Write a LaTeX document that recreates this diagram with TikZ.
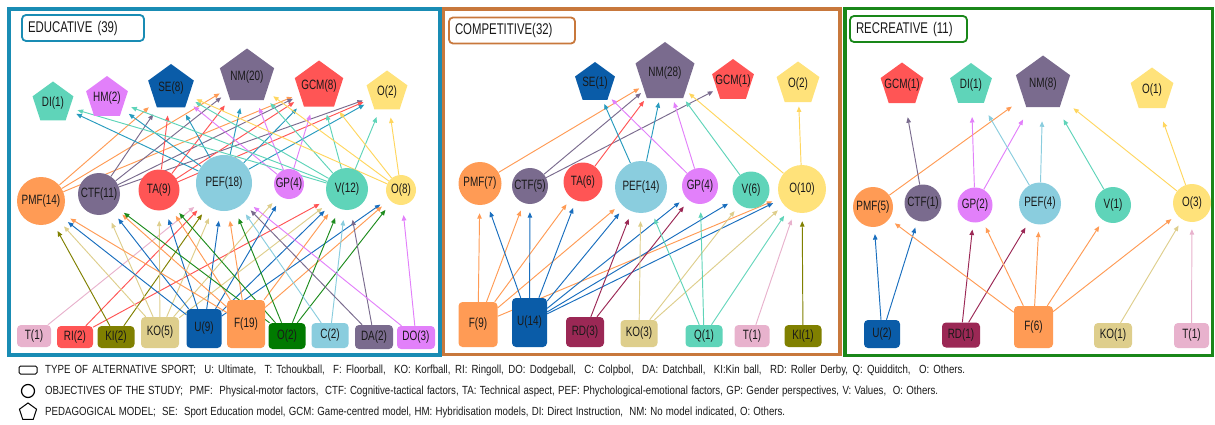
\documentclass[tikz,border=0pt]{standalone}
\usepackage{fontspec}
\setmainfont{Liberation Sans}[FakeStretch=0.735]
\newfontfamily\legfont{Liberation Sans}[FakeStretch=0.82]
\usetikzlibrary{shapes.geometric,arrows.meta}
\pgfdeclarelayer{bg}
\pgfsetlayers{bg,main}
\newcommand\mz[1]{\makebox[0pt]{#1}}
\definecolor{cedu}{RGB}{25,140,180}
\definecolor{ccomp}{RGB}{200,120,60}
\definecolor{crec}{RGB}{25,135,25}
\definecolor{cmint}{RGB}{95,212,185}
\definecolor{cviolet}{RGB}{226,128,250}
\definecolor{cblue}{RGB}{10,92,168}
\definecolor{cblueedge}{RGB}{25,110,190}
\definecolor{cplum}{RGB}{122,107,142}
\definecolor{cred}{RGB}{255,85,85}
\definecolor{cyel}{RGB}{255,226,122}
\definecolor{cyeledge}{RGB}{255,214,95}
\definecolor{corange}{RGB}{255,155,85}
\definecolor{clblue}{RGB}{138,205,222}
\definecolor{cpef}{RGB}{40,155,190}
\definecolor{cpink}{RGB}{232,178,205}
\definecolor{colive}{RGB}{128,128,0}
\definecolor{ctan}{RGB}{222,206,140}
\definecolor{cdgreen}{RGB}{0,122,0}
\definecolor{cgreenedge}{RGB}{30,140,30}
\definecolor{cmaroon}{RGB}{155,40,85}
\definecolor{ctext}{RGB}{25,25,25}
\begin{document}
\begin{tikzpicture}[x=1pt,y=-1pt,font=\fontsize{13.5}{15}\selectfont,text=ctext,
  pent/.style={regular polygon,regular polygon sides=5,inner sep=0pt,fill=#1,draw=none},
  circ/.style={circle,inner sep=0pt,fill=#1,draw=none},
  box/.style={rounded corners=4pt,inner sep=0pt,fill=#1,draw=none},
  ed/.style={draw=#1,line width=0.95pt,-{Triangle[length=5.5pt,width=4.5pt]}},
  et/.style={shorten >=8pt},
  eb/.style={shorten >=10pt},
  ct/.style={shorten >=4pt},
  cb/.style={shorten >=8pt},
  rt/.style={shorten >=14pt},
  rb/.style={shorten >=7pt},
  titlebox/.style={draw=#1,line width=1.8pt,rounded corners=4pt,minimum height=26pt,inner xsep=6pt,align=left,font=\fontsize{15.5}{17}\selectfont},
  frame/.style={draw=#1,line width=3.5pt},
  legtext/.style={anchor=west,inner sep=0pt,font=\legfont\fontsize{11.8}{13}\selectfont}
]
\useasboundingbox (0,0) rectangle (1215,425);
% frames
\draw[frame=cedu] (9,9) rectangle (440,355);
\draw[frame=ccomp] (443.5,9) rectangle (840,354.5);
\draw[frame=crec] (845,8.5) rectangle (1212.5,355.5);
\node[titlebox=cedu,text width=110pt] (eTitle) at (83,28) {EDUCATIVE (39)};
\node[titlebox=ccomp,text width=114pt] (cTitle) at (512,30.5) {COMPETITIVE(32)};
\node[titlebox=crec,text width=105pt] (rTitle) at (908.5,29) {RECREATIVE (11)};

% ===== EDUCATIVE =====
\node[pent=cmint,minimum size=43pt] (eDI) at (53,103) {\mz{DI(1)}};
\node[pent=cviolet,minimum size=44pt] (eHM) at (107,98) {\mz{HM(2)}};
\node[pent=cblue,minimum size=48pt] (eSE) at (171,88) {\mz{SE(8)}};
\node[pent=cplum,minimum size=57pt] (eNM) at (247,77) {\mz{NM(20)}};
\node[pent=cred,minimum size=51pt] (eGCM) at (319,86) {\mz{GCM(8)}};
\node[pent=cyel,minimum size=43pt] (eOp) at (387,92) {\mz{O(2)}};

\node[circ=corange,minimum size=48pt] (ePMF) at (41,201) {\mz{PMF(14)}};
\node[circ=cplum,minimum size=42pt] (eCTF) at (99,194) {\mz{CTF(11)}};
\node[circ=cred,minimum size=41pt] (eTA) at (159,190) {\mz{TA(9)}};
\node[circ=clblue,minimum size=56pt] (ePEF) at (224,183) {\mz{PEF(18)}};
\node[circ=cviolet,minimum size=30pt] (eGP) at (289,184) {\mz{GP(4)}};
\node[circ=cmint,minimum size=42pt] (eV) at (347,189) {\mz{V(12)}};
\node[circ=cyel,minimum size=30pt] (eOc) at (401,190) {\mz{O(8)}};

\node[box=cpink,minimum width=34pt,minimum height=22pt] (eT) at (34,336) {T(1)};
\node[box=cred,minimum width=36pt,minimum height=22pt] (eRI) at (75,337) {RI(2)};
\node[box=colive,minimum width=37pt,minimum height=22pt] (eKI) at (116,337) {KI(2)};
\node[box=ctan,minimum width=38pt,minimum height=31pt] (eKO) at (160,332.5) {KO(5)};
\node[box=cblue,minimum width=35pt,minimum height=39pt] (eU) at (204,328.5) {U(9)};
\node[box=corange,minimum width=38pt,minimum height=48pt] (eF) at (246,324) {F(19)};
\node[box=cdgreen,minimum width=37pt,minimum height=26pt] (eOr) at (287,336) {O(2)};
\node[box=clblue,minimum width=37pt,minimum height=25pt] (eC) at (330,335.5) {C(2)};
\node[box=cplum,minimum width=38pt,minimum height=24pt] (eDA) at (374,337) {DA(2)};
\node[box=cviolet,minimum width=38pt,minimum height=23pt] (eDO) at (416,337.5) {DO(3)};

% ===== COMPETITIVE =====
\node[pent=cblue,minimum size=42pt] (cSE) at (595,83) {\mz{SE(1)}};
\node[pent=cplum,minimum size=62pt] (cNM) at (665,73) {\mz{NM(28)}};
\node[pent=cred,minimum size=44pt] (cGCM) at (733,81) {\mz{GCM(1)}};
\node[pent=cyel,minimum size=45pt] (cOp) at (798,84) {\mz{O(2)}};

\node[circ=corange,minimum size=43pt] (cPMF) at (480,183.5) {\mz{PMF(7)}};
\node[circ=cplum,minimum size=36pt] (cCTF) at (530,186) {\mz{CTF(5)}};
\node[circ=cred,minimum size=39pt] (cTA) at (583,182) {\mz{TA(6)}};
\node[circ=clblue,minimum size=52pt] (cPEF) at (641,187) {\mz{PEF(14)}};
\node[circ=cviolet,minimum size=36pt] (cGP) at (700,186) {\mz{GP(4)}};
\node[circ=cmint,minimum size=37pt] (cV) at (751,190) {\mz{V(6)}};
\node[circ=cyel,minimum size=48pt] (cOc) at (802,189) {\mz{O(10)}};

\node[box=corange,minimum width=39pt,minimum height=45pt] (cF) at (478,324.5) {F(9)};
\node[box=cblue,minimum width=35pt,minimum height=49pt] (cU) at (529.5,322.5) {U(14)};
\node[box=cmaroon,minimum width=38pt,minimum height=30pt] (cRD) at (585,332) {RD(3)};
\node[box=ctan,minimum width=37pt,minimum height=27pt] (cKO) at (639,333.5) {KO(3)};
\node[box=cmint,minimum width=37pt,minimum height=22pt] (cQ) at (704,336) {Q(1)};
\node[box=cpink,minimum width=35pt,minimum height=22pt] (cT) at (752,336) {T(1)};
\node[box=colive,minimum width=37pt,minimum height=22pt] (cKI) at (803,336) {KI(1)};

% ===== RECREATIVE =====
\node[pent=cred,minimum size=45pt] (rGCM) at (902,85) {\mz{GCM(1)}};
\node[pent=cmint,minimum size=44pt] (rDI) at (971,85) {\mz{DI(1)}};
\node[pent=cplum,minimum size=57pt] (rNM) at (1043,84) {\mz{NM(8)}};
\node[pent=cyel,minimum size=45pt] (rOp) at (1152,90) {\mz{O(1)}};

\node[circ=corange,minimum size=40pt] (rPMF) at (873,207) {\mz{PMF(5)}};
\node[circ=cplum,minimum size=37pt] (rCTF) at (923,203) {\mz{CTF(1)}};
\node[circ=cviolet,minimum size=35pt] (rGP) at (975,205) {\mz{GP(2)}};
\node[circ=clblue,minimum size=42pt] (rPEF) at (1040,203.5) {\mz{PEF(4)}};
\node[circ=cmint,minimum size=36pt] (rV) at (1113,205) {\mz{V(1)}};
\node[circ=cyel,minimum size=38pt] (rOc) at (1192,203) {\mz{O(3)}};

\node[box=cblue,minimum width=36pt,minimum height=28pt] (rU) at (882,334) {U(2)};
\node[box=cmaroon,minimum width=38pt,minimum height=25pt] (rRD) at (961,335) {RD(1)};
\node[box=corange,minimum width=39pt,minimum height=42pt] (rF) at (1033.5,327) {F(6)};
\node[box=ctan,minimum width=38pt,minimum height=25pt] (rKO) at (1113,335.5) {KO(1)};
\node[box=cpink,minimum width=35pt,minimum height=25pt] (rT) at (1191.5,335.5) {T(1)};

\begin{pgfonlayer}{bg}
% educative: objectives -> models
\foreach \t in {eSE,eNM,eGCM} \draw[ed=corange,et] (ePMF) -- (\t);
\foreach \t in {eSE,eNM,eGCM,eOp} \draw[ed=cplum,et] (eCTF) -- (\t);
\foreach \t in {eSE,eNM,eGCM,eOp} \draw[ed=cred,et] (eTA) -- (\t);
\foreach \t in {eDI,eHM,eSE,eNM,eGCM,eOp} \draw[ed=cpef,et] (ePEF) -- (\t);
\foreach \t in {eSE,eNM,eGCM} \draw[ed=cviolet,et] (eGP) -- (\t);
\foreach \t in {eDI,eHM,eSE,eNM,eGCM,eOp} \draw[ed=cmint,et] (eV) -- (\t);
\foreach \t in {eSE,eNM,eGCM,eOp} \draw[ed=cyeledge,et] (eOc) -- (\t);
% educative: sports -> objectives
\draw[ed=cpink,eb] (eT) -- (ePEF);
\foreach \t in {ePEF,eV} \draw[ed=cred,eb] (eRI) -- (\t);
\foreach \t in {ePMF,ePEF} \draw[ed=colive,eb] (eKI) -- (\t);
\foreach \t in {ePMF,eCTF,eTA,ePEF,eGP,eV} \draw[ed=ctan,eb] (eKO) -- (\t);
\foreach \t in {ePMF,eCTF,eTA,ePEF,eGP,eV,eOc} \draw[ed=cblueedge,eb] (eU) -- (\t);
\foreach \t in {ePMF,eCTF,eTA,ePEF,eV,eOc} \draw[ed=corange,eb] (eF) -- (\t);
\foreach \t in {eCTF,eTA,ePEF,eV,eOc} \draw[ed=cgreenedge,eb] (eOr) -- (\t);
\foreach \t in {ePEF,eV} \draw[ed=clblue,eb] (eC) -- (\t);
\foreach \t in {ePEF,eV} \draw[ed=cplum,eb] (eDA) -- (\t);
\foreach \t in {ePEF,eOc} \draw[ed=cviolet,eb] (eDO) -- (\t);
% competitive: objectives -> models
\draw[ed=corange,ct] (cPMF) -- (cNM);
\foreach \t in {cNM,cGCM} \draw[ed=cplum,ct] (cCTF) -- (\t);
\draw[ed=cred,ct] (cTA) -- (cNM);
\foreach \t in {cSE,cNM} \draw[ed=cpef,ct] (cPEF) -- (\t);
\foreach \t in {cSE,cNM} \draw[ed=cviolet,ct] (cGP) -- (\t);
\draw[ed=cmint,ct] (cV) -- (cNM);
\foreach \t in {cNM,cOp} \draw[ed=cyeledge,ct] (cOc) -- (\t);
% competitive: sports -> objectives
\foreach \t in {cPMF,cCTF,cTA,cPEF,cOc} \draw[ed=corange,cb] (cF) -- (\t);
\foreach \t in {cPMF,cCTF,cTA,cPEF,cGP,cV,cOc} \draw[ed=cblueedge,cb] (cU) -- (\t);
\foreach \t in {cPEF,cGP} \draw[ed=cmaroon,cb] (cRD) -- (\t);
\foreach \t in {cPEF,cV,cOc} \draw[ed=ctan,cb] (cKO) -- (\t);
\foreach \t in {cPEF,cGP,cOc} \draw[ed=cmint,cb] (cQ) -- (\t);
\draw[ed=cpink,cb] (cT) -- (cOc);
\draw[ed=colive,cb] (cKI) -- (cOc);
% recreative: objectives -> models
\draw[ed=corange,rt] (rPMF) -- (rNM);
\draw[ed=cplum,rt] (rCTF) -- (rGCM);
\foreach \t in {rDI,rNM} \draw[ed=cviolet,rt] (rGP) -- (\t);
\foreach \t in {rDI,rNM} \draw[ed=clblue,rt] (rPEF) -- (\t);
\draw[ed=cmint,rt] (rV) -- (rNM);
\foreach \t in {rNM,rOp} \draw[ed=cyeledge,rt] (rOc) -- (\t);
% recreative: sports -> objectives
\foreach \t in {rPMF,rCTF} \draw[ed=cblueedge,rb] (rU) -- (\t);
\foreach \t in {rGP,rPEF} \draw[ed=cmaroon,rb] (rRD) -- (\t);
\foreach \t in {rPMF,rGP,rPEF,rV,rOc} \draw[ed=corange,rb] (rF) -- (\t);
\draw[ed=ctan,rb] (rKO) -- (rOc);
\draw[ed=cpink,rb] (rT) -- (rOc);
\end{pgfonlayer}

% legend
\node[draw,line width=1pt,rounded corners=1.5pt,minimum width=18pt,minimum height=8pt,inner sep=0pt] (lgRect) at (28,370) {};
\node[draw,line width=1.2pt,circle,minimum size=13pt,inner sep=0pt] (lgCirc) at (28,391) {};
\node[draw,line width=1pt,regular polygon,regular polygon sides=5,minimum size=18pt,inner sep=0pt] (lgPent) at (28,412) {};
\node[legtext] (lg1) at (45,370) {\makebox[920pt][s]{TYPE OF ALTERNATIVE SPORT;\ \ U: Ultimate,\ \ T: Tchoukball,\ \ F: Floorball,\ \ KO: Korfball, RI: Ringoll, DO: Dodgeball,\ \ C: Colpbol,\ \ DA: Datchball,\ \ KI:Kin ball,\ \ RD: Roller Derby, Q: Quidditch,\ \ O: Others.}};
\node[legtext] (lg2) at (45,391) {\makebox[893pt][s]{OBJECTIVES OF THE STUDY;\ \ PMF:\ \ Physical-motor factors,\ \ CTF: Cognitive-tactical factors, TA: Technical aspect, PEF: Phychological-emotional factors, GP: Gender perspectives, V: Values,\ \ O: Others.}};
\node[legtext] (lg3) at (45,412) {\makebox[740pt][s]{PEDAGOGICAL MODEL;\ \ SE:\ \ Sport Education model, GCM: Game-centred model, HM: Hybridisation models, DI: Direct Instruction,\ \ NM: No model indicated, O: Others.}};
\end{tikzpicture}
\end{document}
